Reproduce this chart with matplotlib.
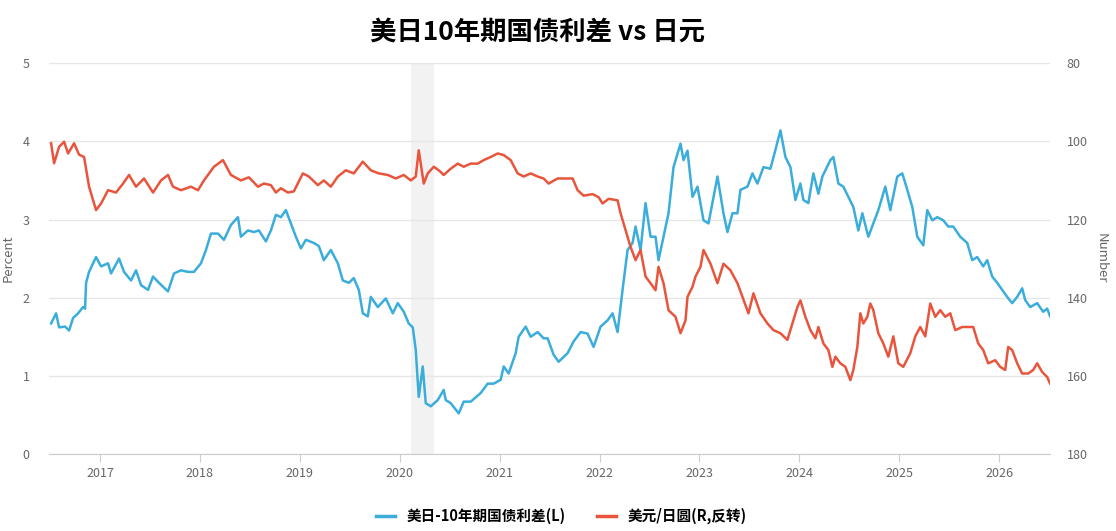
import numpy as np
import matplotlib.pyplot as plt
from matplotlib.lines import Line2D

plt.rcParams['font.family'] = ['Noto Sans CJK SC', 'DejaVu Sans']

# US-JP 10y spread (left axis, percent), dates as decimal years
spread_t = [2016.51, 2016.56, 2016.59, 2016.65, 2016.69, 2016.73, 2016.78, 2016.83, 2016.85, 2016.86,
            2016.89, 2016.96, 2017.01, 2017.08, 2017.11, 2017.19, 2017.24, 2017.31, 2017.36, 2017.41,
            2017.48, 2017.53, 2017.59, 2017.68, 2017.74, 2017.81, 2017.88, 2017.94, 2018.01, 2018.06,
            2018.11, 2018.18, 2018.24, 2018.31, 2018.38, 2018.41, 2018.48, 2018.54, 2018.59, 2018.66,
            2018.71, 2018.76, 2018.81, 2018.86, 2018.91, 2018.96, 2019.01, 2019.06, 2019.14, 2019.19,
            2019.24, 2019.31, 2019.38, 2019.43, 2019.49, 2019.54, 2019.59, 2019.63, 2019.68, 2019.71,
            2019.78, 2019.86, 2019.93, 2019.98, 2020.04, 2020.09, 2020.13, 2020.16, 2020.19, 2020.23,
            2020.26, 2020.31, 2020.38, 2020.44, 2020.46, 2020.51, 2020.59, 2020.64, 2020.71, 2020.81,
            2020.88, 2020.94, 2021.01, 2021.04, 2021.09, 2021.16, 2021.19, 2021.26, 2021.31, 2021.38,
            2021.44, 2021.48, 2021.54, 2021.59, 2021.68, 2021.74, 2021.81, 2021.88, 2021.94, 2022.01,
            2022.08, 2022.13, 2022.18, 2022.23, 2022.28, 2022.33, 2022.36, 2022.41, 2022.46, 2022.51,
            2022.56, 2022.59, 2022.64, 2022.69, 2022.74, 2022.81, 2022.84, 2022.88, 2022.93, 2022.98,
            2023.04, 2023.09, 2023.18, 2023.24, 2023.28, 2023.33, 2023.38, 2023.41, 2023.48, 2023.53,
            2023.58, 2023.64, 2023.71, 2023.76, 2023.81, 2023.86, 2023.91, 2023.96, 2024.01, 2024.04,
            2024.09, 2024.14, 2024.19, 2024.23, 2024.31, 2024.34, 2024.39, 2024.44, 2024.49, 2024.54,
            2024.59, 2024.63, 2024.69, 2024.74, 2024.79, 2024.86, 2024.91, 2024.98, 2025.03, 2025.08,
            2025.13, 2025.18, 2025.24, 2025.28, 2025.33, 2025.38, 2025.44, 2025.49, 2025.54, 2025.61,
            2025.68, 2025.73, 2025.78, 2025.84, 2025.88, 2025.93, 2025.98, 2026.03, 2026.08, 2026.13,
            2026.18, 2026.23, 2026.26, 2026.31, 2026.38, 2026.44, 2026.48, 2026.51]
spread = [1.67, 1.80, 1.62, 1.63, 1.58, 1.74, 1.80, 1.88, 1.86, 2.19,
          2.33, 2.52, 2.40, 2.44, 2.31, 2.50, 2.33, 2.22, 2.35, 2.16,
          2.10, 2.27, 2.19, 2.08, 2.31, 2.35, 2.33, 2.33, 2.44, 2.61,
          2.82, 2.82, 2.74, 2.93, 3.03, 2.78, 2.86, 2.84, 2.86, 2.72,
          2.86, 3.06, 3.03, 3.12, 2.95, 2.78, 2.63, 2.74, 2.70, 2.66,
          2.48, 2.61, 2.44, 2.22, 2.19, 2.25, 2.10, 1.80, 1.76, 2.01,
          1.88, 1.99, 1.80, 1.93, 1.82, 1.67, 1.62, 1.33, 0.73, 1.12,
          0.65, 0.61, 0.69, 0.82, 0.69, 0.65, 0.52, 0.67, 0.67, 0.78,
          0.90, 0.90, 0.95, 1.12, 1.03, 1.29, 1.50, 1.63, 1.50, 1.56,
          1.48, 1.48, 1.27, 1.18, 1.29, 1.44, 1.56, 1.54, 1.37, 1.63,
          1.71, 1.80, 1.56, 2.10, 2.61, 2.70, 2.91, 2.61, 3.21, 2.78,
          2.78, 2.48, 2.78, 3.08, 3.67, 3.97, 3.76, 3.88, 3.29, 3.42,
          2.99, 2.95, 3.55, 3.08, 2.84, 3.08, 3.08, 3.38, 3.42, 3.59,
          3.46, 3.67, 3.65, 3.89, 4.14, 3.80, 3.67, 3.25, 3.46, 3.25,
          3.21, 3.59, 3.33, 3.55, 3.76, 3.80, 3.46, 3.42, 3.29, 3.16,
          2.86, 3.08, 2.78, 2.95, 3.12, 3.42, 3.12, 3.55, 3.59, 3.38,
          3.16, 2.78, 2.67, 3.12, 2.99, 3.03, 2.99, 2.91, 2.91, 2.78,
          2.70, 2.48, 2.52, 2.40, 2.48, 2.27, 2.19, 2.10, 2.01, 1.93,
          2.01, 2.12, 1.97, 1.88, 1.93, 1.82, 1.86, 1.76]

# USD/JPY (right axis, inverted)
usdjpy_t = [2016.51, 2016.54, 2016.59, 2016.64, 2016.68, 2016.74, 2016.79, 2016.84, 2016.89, 2016.96,
            2017.01, 2017.08, 2017.16, 2017.23, 2017.29, 2017.36, 2017.44, 2017.53, 2017.61, 2017.68,
            2017.73, 2017.81, 2017.91, 2017.98, 2018.04, 2018.14, 2018.23, 2018.31, 2018.41, 2018.49,
            2018.58, 2018.64, 2018.71, 2018.76, 2018.81, 2018.88, 2018.94, 2019.03, 2019.09, 2019.18,
            2019.24, 2019.31, 2019.38, 2019.46, 2019.54, 2019.63, 2019.71, 2019.79, 2019.88, 2019.96,
            2020.04, 2020.11, 2020.16, 2020.19, 2020.24, 2020.28, 2020.34, 2020.39, 2020.44, 2020.51,
            2020.58, 2020.64, 2020.71, 2020.78, 2020.84, 2020.91, 2020.98, 2021.04, 2021.11, 2021.18,
            2021.24, 2021.31, 2021.38, 2021.44, 2021.49, 2021.58, 2021.66, 2021.73, 2021.78, 2021.84,
            2021.93, 2021.99, 2022.03, 2022.09, 2022.18, 2022.21, 2022.26, 2022.31, 2022.36, 2022.41,
            2022.46, 2022.51, 2022.56, 2022.59, 2022.64, 2022.69, 2022.76, 2022.81, 2022.86, 2022.88,
            2022.93, 2022.96, 2023.01, 2023.04, 2023.11, 2023.18, 2023.24, 2023.31, 2023.38, 2023.43,
            2023.49, 2023.54, 2023.61, 2023.68, 2023.74, 2023.81, 2023.88, 2023.93, 2023.98, 2024.01,
            2024.06, 2024.11, 2024.16, 2024.19, 2024.24, 2024.29, 2024.33, 2024.36, 2024.41, 2024.46,
            2024.51, 2024.54, 2024.58, 2024.61, 2024.64, 2024.68, 2024.71, 2024.74, 2024.79, 2024.84,
            2024.89, 2024.94, 2024.99, 2025.04, 2025.11, 2025.16, 2025.21, 2025.26, 2025.31, 2025.36,
            2025.41, 2025.46, 2025.51, 2025.56, 2025.63, 2025.69, 2025.74, 2025.79, 2025.84, 2025.89,
            2025.96, 2026.01, 2026.06, 2026.09, 2026.13, 2026.18, 2026.23, 2026.29, 2026.34, 2026.38,
            2026.43, 2026.48, 2026.51]
usdjpy = [100.5, 105.6, 101.4, 100.1, 103.1, 100.5, 103.4, 104.0, 111.6, 117.6,
          115.9, 112.5, 113.1, 110.8, 108.6, 111.6, 109.5, 113.1, 110.0, 108.6,
          111.6, 112.5, 111.6, 112.5, 110.0, 106.5, 104.8, 108.6, 110.0, 109.2,
          111.6, 110.8, 111.2, 113.1, 112.0, 113.1, 112.8, 108.2, 109.0, 111.2,
          110.0, 111.6, 109.0, 107.4, 108.2, 105.2, 107.4, 108.2, 108.6, 109.5,
          108.6, 110.0, 109.0, 102.3, 110.8, 108.2, 106.5, 107.4, 108.6, 107.0,
          105.7, 106.5, 105.7, 105.7, 104.8, 104.0, 103.1, 103.5, 104.8, 108.2,
          109.0, 108.2, 109.0, 109.5, 110.8, 109.5, 109.5, 109.5, 112.5, 113.9,
          113.5, 114.3, 115.9, 114.7, 115.1, 118.4, 122.7, 127.0, 130.4, 127.8,
          134.6, 136.3, 138.1, 132.1, 136.3, 143.2, 144.9, 149.1, 145.8, 139.8,
          137.2, 134.6, 132.1, 127.8, 131.3, 136.3, 131.3, 133.0, 136.3, 139.8,
          144.0, 138.9, 144.0, 146.6, 148.3, 149.1, 150.8, 146.6, 142.4, 140.7,
          144.9, 148.3, 150.4, 147.5, 151.7, 153.4, 157.7, 155.1, 156.8, 157.7,
          161.1, 158.5, 152.6, 144.0, 146.6, 144.9, 141.5, 143.2, 149.1, 151.7,
          155.1, 149.9, 156.8, 157.7, 154.2, 149.9, 147.5, 149.9, 141.5, 144.9,
          143.2, 144.9, 144.0, 148.3, 147.5, 147.5, 147.5, 151.7, 153.4, 156.8,
          156.0, 157.7, 158.5, 152.6, 153.4, 156.8, 159.4, 159.4, 158.5, 156.8,
          159.0, 160.3, 162.0]

years = list(range(2017, 2027))
recession = (2020.11, 2020.34)

blue = '#3aaddb'
red = '#e8553c'
gray_txt = '#666666'

fig = plt.figure(figsize=(11.16, 5.31), dpi=100)
ax = fig.add_axes([0.044, 0.145, 0.897, 0.736])
ax2 = ax.twinx()

ax.axvspan(recession[0], recession[1], color='#f2f2f2', zorder=0, lw=0)
ax.plot(spread_t, spread, color=blue, lw=1.8, zorder=3)
ax2.plot(usdjpy_t, usdjpy, color=red, lw=1.8, zorder=3)

ax.set_xlim(2016.49, 2026.51)
ax.set_ylim(0, 5)
ax2.set_ylim(180, 80)
ax.set_yticks(range(0, 6))
ax2.set_yticks(range(80, 181, 20))
ax.set_xticks(years)
ax.set_xticklabels([str(y) for y in years])

ax.grid(axis='y', color='#e6e6e6', lw=1)
ax.set_axisbelow(True)
for a in (ax, ax2):
    for s in ('left', 'right', 'top', 'bottom'):
        a.spines[s].set_visible(False)
ax.spines['bottom'].set_visible(True)
ax.spines['bottom'].set_color('#cccccc')

ax.tick_params(axis='x', colors=gray_txt, labelsize=9, length=6, color='#cccccc', pad=3)
ax.tick_params(axis='y', colors=gray_txt, labelsize=9, length=0, pad=14)
ax2.tick_params(axis='y', colors=gray_txt, labelsize=9, length=0, pad=12)

ax.set_ylabel('Percent', color=gray_txt, fontsize=9.5, labelpad=6)
ax2.set_ylabel('Number', color=gray_txt, fontsize=9.5, rotation=270, labelpad=14)

fig.suptitle('美日10年期国债利差 vs 日元', x=0.482, y=0.965, fontsize=19, fontweight='bold')

handles = [Line2D([], [], color=blue, lw=2.5), Line2D([], [], color=red, lw=2.5)]
fig.legend(handles, ['美日-10年期国债利差(L)', '美元/日圆(R,反转)'], loc='lower center',
           bbox_to_anchor=(0.503, -0.012), ncol=2, frameon=False, handlelength=1.3,
           columnspacing=2.2, prop={'weight': 'bold', 'size': 10.5})

fig.savefig('out.png', dpi=100)
